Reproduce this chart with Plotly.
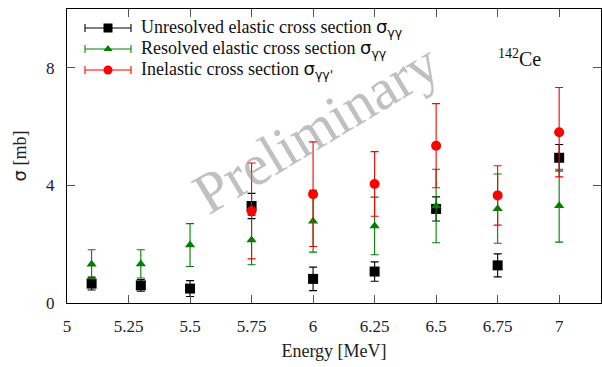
import plotly.graph_objects as go

# ---------------- data ----------------
energy = [5.1, 5.3, 5.5, 5.75, 6.0, 6.25, 6.5, 6.75, 7.0]
unresolved = [0.66, 0.60, 0.49, 3.30, 0.82, 1.07, 3.20, 1.28, 4.94]
unresolved_err = [0.22, 0.20, 0.27, 0.43, 0.40, 0.33, 0.41, 0.39, 0.45]
resolved = [1.32, 1.33, 1.97, 2.14, 2.78, 2.62, 3.30, 3.21, 3.31]
resolved_err = [0.49, 0.48, 0.73, 0.84, 1.05, 0.98, 1.25, 1.18, 1.24]
inel_energy = [5.75, 6.0, 6.25, 6.5, 6.75, 7.0]
inelastic = [3.13, 3.70, 4.05, 5.35, 3.66, 5.81]
inelastic_err = [1.63, 1.78, 1.10, 1.43, 1.01, 1.52]

x_ticks = [5, 5.25, 5.5, 5.75, 6, 6.25, 6.5, 6.75, 7]
x_ticklabels = ["5", "5.25", "5.5", "5.75", "6", "6.25", "6.5", "6.75", "7"]
y_ticks = [0, 4, 8]

SIG = '<span style="font-family:DejaVu Sans">σ</span>'
GG = '<sub><span style="font-family:DejaVu Sans">γγ</span></sub>'
GGP = "<sub><span style=\"font-family:DejaVu Sans\">γγ'</span></sub>"
legend_names = [
    "Unresolved elastic cross section " + SIG + GG,
    "Resolved elastic cross section " + SIG + GG,
    "Inelastic cross section " + SIG + GGP,
]
colors = ["#000000", "#008000", "#ff0000"]
symbols = ["square", "triangle-up", "circle"]
sizes = [10, 9, 10]

SERIF = "Liberation Serif"

fig = go.Figure()

series = [
    (energy, unresolved, unresolved_err),
    (energy, resolved, resolved_err),
    (inel_energy, inelastic, inelastic_err),
]
for (xs, ys, es), c, s, sz in zip(series, colors, symbols, sizes):
    fig.add_trace(go.Scatter(
        x=xs, y=ys, mode="markers",
        marker=dict(symbol=s, size=sz, color=c, line=dict(width=0)),
        error_y=dict(type="data", array=es, visible=True, color=c,
                     thickness=1.1, width=4),
        showlegend=False, cliponaxis=False,
    ))

# manual legend glyphs (overlay axis in pixel-like units)
leg_y = [28, 49, 70]
for i in range(3):
    fig.add_trace(go.Scatter(
        x=[108], y=[leg_y[i]], xaxis="x2", yaxis="y2", mode="markers",
        marker=dict(symbol=symbols[i], size=sizes[i] - 1, color=colors[i]),
        error_x=dict(type="data", array=[23], visible=True, color=colors[i],
                     thickness=1.1, width=4),
        showlegend=False, hoverinfo="skip", cliponaxis=False,
    ))
    fig.add_annotation(x=139, y=leg_y[i], xref="x2", yref="y2",
                       text=legend_names[i], showarrow=False,
                       xanchor="left", yanchor="middle",
                       font=dict(family=SERIF, size=18, color="#111"))

fig.add_annotation(x=6.01, y=5.95, xref="x", yref="y", text="Preliminary",
                   showarrow=False, textangle=-31,
                   font=dict(family=SERIF, size=58, color="rgba(150,150,150,0.6)"))
fig.add_annotation(x=6.84, y=8.35, xref="x", yref="y", text="<sup>142</sup>Ce",
                   showarrow=False,
                   font=dict(family=SERIF, size=20, color="#111"))

axis_common = dict(showline=True, linecolor="black", linewidth=1, mirror="ticks",
                   ticks="inside", ticklen=8, tickcolor="#555", tickwidth=1,
                   showgrid=False, zeroline=False, automargin=False,
                   tickfont=dict(family=SERIF, size=17, color="#222"))

fig.update_layout(
    width=602, height=367,
    margin=dict(l=67, r=1, t=9, b=64),
    paper_bgcolor="white", plot_bgcolor="white",
    xaxis=dict(range=[5, 7.17], tickvals=x_ticks, ticktext=x_ticklabels,
               ticklabelstandoff=8,
               title=dict(text="Energy [MeV]", font=dict(family=SERIF, size=18, color="#222"),
                          standoff=8),
               **axis_common),
    yaxis=dict(range=[0, 10], tickvals=y_ticks, ticklabelstandoff=8,
               title=dict(text=SIG + " [mb]", font=dict(family=SERIF, size=18, color="#222"),
                          standoff=14),
               **axis_common),
    xaxis2=dict(overlaying="x", anchor="y2", range=[67, 601], visible=False),
    yaxis2=dict(overlaying="y", anchor="x2", range=[303, 9], visible=False),
)

fig.write_html("out.html", config={"displayModeBar": False},
               post_script="document.body.style.margin='0px';document.body.style.overflow='hidden';")
